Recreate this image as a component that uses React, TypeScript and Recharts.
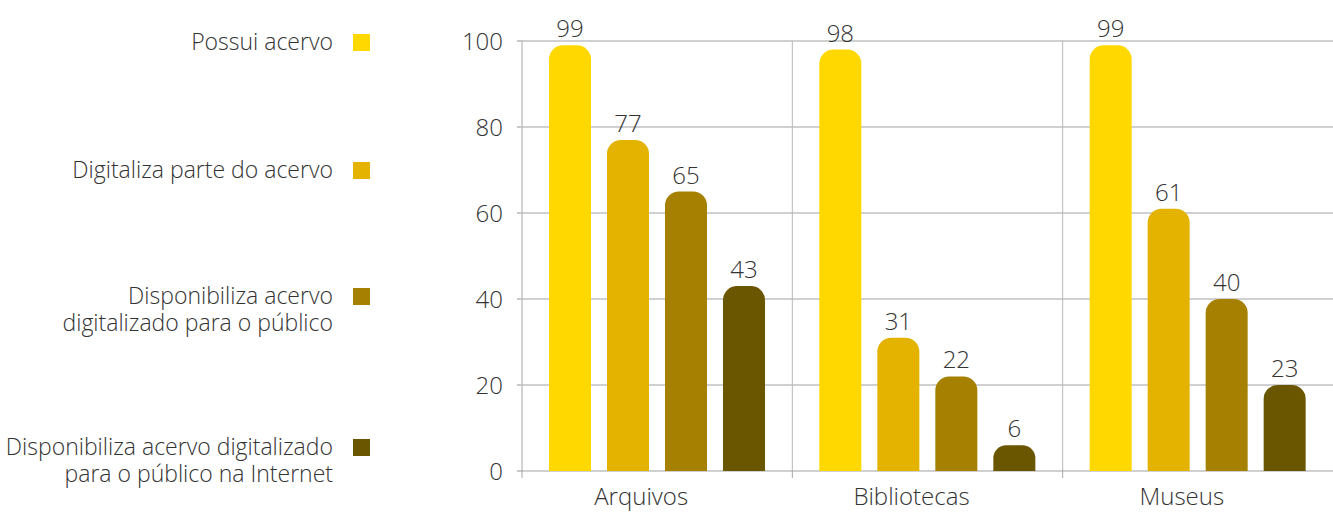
import React from 'react';
import { BarChart, Bar, XAxis, YAxis, CartesianGrid, LabelList, Legend } from 'recharts';

const categories = ['Arquivos', 'Bibliotecas', 'Museus'];
const seriesNames = [
  'Possui acervo',
  'Digitaliza parte do acervo',
  'Disponibiliza acervo\ndigitalizado para o público',
  'Disponibiliza acervo digitalizado\npara o público na Internet',
];
// bar heights as drawn in the picture
const possuiAcervo = [99, 98, 99];
const digitalizaParte = [77, 31, 61];
const disponibilizaPublico = [65, 22, 40];
const disponibilizaInternet = [43, 6, 20];
// value labels as printed in the picture
const possuiAcervoLabels = [99, 98, 99];
const digitalizaParteLabels = [77, 31, 61];
const disponibilizaPublicoLabels = [65, 22, 40];
const disponibilizaInternetLabels = [43, 6, 23];
const yTicks = [0, 20, 40, 60, 80, 100];
const colors = ['#FFD800', '#E3B300', '#A68000', '#6B5600'];

const seriesValues = [possuiAcervo, digitalizaParte, disponibilizaPublico, disponibilizaInternet];
const seriesLabels = [possuiAcervoLabels, digitalizaParteLabels, disponibilizaPublicoLabels, disponibilizaInternetLabels];
const keys = ['s0', 's1', 's2', 's3'];
const data = categories.map((c, i) => {
  const row: any = { category: c };
  keys.forEach((k, j) => {
    row[k] = seriesValues[j][i];
    row[k + 'Label'] = seriesLabels[j][i];
  });
  return row;
});

const FONT = '"Open Sans", "Segoe UI", sans-serif';
const TEXT = '#333333';
const legendCenters = [42, 170, 296, 447];

const renderLegend = (props: any) => {
  const payload = [...(props.payload || [])].sort(
    (a: any, b: any) => seriesNames.indexOf(a.value) - seriesNames.indexOf(b.value)
  );
  return (
    <div style={{ position: 'relative', width: 380, height: 512, fontFamily: FONT, fontWeight: 300 }}>
      {payload.map((entry: any, i: number) => (
        <React.Fragment key={i}>
          <div
            style={{
              position: 'absolute',
              right: 47,
              top: legendCenters[i] - 14,
              fontSize: 23,
              lineHeight: '27px',
              color: TEXT,
              textAlign: 'right',
              whiteSpace: 'pre',
            }}
          >
            {entry.value}
          </div>
          <div
            style={{
              position: 'absolute',
              left: 353,
              top: legendCenters[i] - 8.5,
              width: 17,
              height: 17,
              background: entry.color,
            }}
          />
        </React.Fragment>
      ))}
    </div>
  );
};

const CategoryTick = (props: any) => {
  const { x, y, payload, width, visibleTicksCount } = props;
  const w = typeof width === 'number' && width > 100 ? width : 811;
  const band = w / (visibleTicksCount || categories.length);
  const left = x - band / 2;
  return (
    <g>
      <line x1={left} x2={left} y1={y - 1} y2={y + 7} stroke="#a6a6a6" strokeWidth={1} />
      <text x={x - 16} y={y + 34} textAnchor="middle" fill={TEXT} fontSize={24} fontFamily={FONT} fontWeight={300}>
        {payload.value}
      </text>
    </g>
  );
};

export default function App() {
  return (
    <div style={{ position: 'absolute', left: 0, top: 0, width: 1333, height: 512, background: '#fff' }}>
      <BarChart
        width={1333}
        height={512}
        data={data}
        margin={{ top: 41, right: 0, bottom: 0, left: 0 }}
        barSize={42}
        barGap={16}
      >
        <CartesianGrid horizontal={true} vertical={false} stroke="#d0d0d0" strokeWidth={2} />
        <CartesianGrid
          horizontal={false}
          vertical={true}
          stroke="#b8b8b8"
          strokeWidth={1}
          verticalCoordinatesGenerator={({ offset }: any) =>
            [1, 2].map((k) => offset.left + (k * offset.width) / categories.length)
          }
        />
        <XAxis
          dataKey="category"
          height={41}
          axisLine={false}
          tickLine={false}
          tickSize={0}
          tickMargin={0}
          interval={0}
          tick={<CategoryTick />}
        />
        <YAxis
          width={522}
          domain={[0, 100]}
          ticks={yTicks}
          interval={0}
          axisLine={{ stroke: '#a6a6a6', strokeWidth: 1 }}
          tickLine={{ stroke: '#c8c8c8', strokeWidth: 2 }}
          tickSize={5}
          tickMargin={14}
          tick={{ fill: TEXT, fontSize: 24, fontFamily: FONT, fontWeight: 300 }}
        />
        <Legend
          layout="vertical"
          align="center"
          verticalAlign="middle"
          content={renderLegend}
          wrapperStyle={{ position: 'absolute', left: 0, top: 0, width: 380, height: 512 }}
        />
        {keys.map((k, j) => (
          <Bar
            key={k}
            dataKey={k}
            name={seriesNames[j]}
            fill={colors[j]}
            radius={[14, 14, 0, 0]}
            isAnimationActive={false}
          >
            <LabelList
              dataKey={k + 'Label'}
              position="top"
              offset={8}
              fill={TEXT}
              fontSize={24}
              fontFamily={FONT}
              fontWeight={300}
            />
          </Bar>
        ))}
      </BarChart>
    </div>
  );
}
